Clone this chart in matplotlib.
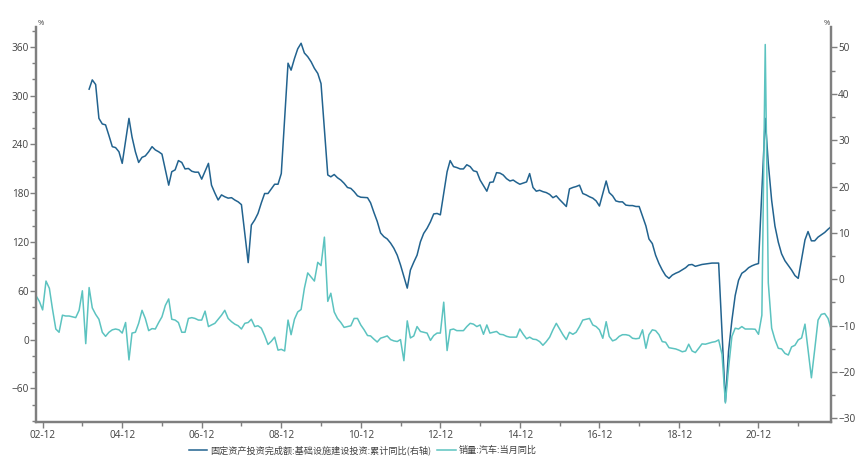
import numpy as np
import pandas as pd
import matplotlib
matplotlib.use("Agg")
import matplotlib.pyplot as plt
import matplotlib.dates as mdates
from matplotlib.ticker import MultipleLocator

plt.rcParams['font.family'] = ['Noto Sans CJK SC', 'DejaVu Sans']

# 销量:汽车:当月同比 (左轴), 2002-10 ~ 2022-10
auto_yoy = [
    54, 47, 36.5,
    72, 63, 38, 13, 9, 30, 29, 29, 28, 27, 36, 60,
    -5, 64, 39, 31, 25, 9, 4, 9, 12, 13, 12, 8,
    21, -25, 8, 9, 20, 36, 26, 11, 13.5, 13, 21, 28,
    42, 50, 25, 24, 21, 9, 9, 26, 27, 26, 24, 24,
    35, 16, 18, 20, 25, 30, 36, 26, 22, 19, 17, 13,
    20, 21, 25, 16, 17, 14, 5, -6, -2, 3, -13, -12,
    -14, 24, 6, 25, 34, 37, 63, 82, 77, 72, 95, 91,
    126, 47, 57, 34, 26, 21, 15, 16, 17, 26, 26, 18,
    12, 5, 4.5, 0.5, -3, 1.7, 3, 4.5, 0, -1.6, -2.4, 0,
    -26, 23, 2, 4.5, 16, 10, 9, 8, -1, 5, 8, 8,
    46, -13.5, 12, 13, 11, 11, 11, 16, 20, 19, 16, 18,
    6.5, 18, 8, 9, 10, 6.5, 6, 4, 3, 3, 3, 13,
    6.5, 1, 3, 0.5, 0, -2.5, -7, -2.5, 3, 12, 20, 13,
    6, 0, 9, 6.5, 9, 16, 24, 25, 26, 18, 16, 12,
    1.6, 22, 4, -1.6, 0, 4, 6, 6, 5, 1.6, 1, 1.6,
    12, -10.7, 6, 12, 11, 6, -2.5, -3.3, -10, -10.7, -11.5, -13,
    -15, -14, -5.7, -14, -16, -10.7, -5.3, -5.7, -4.5, -3.3, -2.5, -0.4,
    -18, -78, -35, 4, 14, 13, 16, 13, 13, 13, 12.7, 6.5,
    30, 363, 70, 14, 0, -10.7, -11.5, -17, -19, -9, -7, -0.4,
    2, 19, -12.7, -47, -12.7, 24, 31, 32, 26, 12,
]
auto_dates = pd.date_range('2002-10-01', periods=len(auto_yoy), freq='MS')

# 基础设施建设投资:累计同比 (右轴), 2004-01 ~ 2022-10, 1月无数据
nan = np.nan
infra_yoy = [
    nan, 41, 43, 42, 34.7, 33.5, 33.3, 31, 28.6, 28.4, 27.5, 25,
    nan, 34.7, 30.7, 27.5, 25.2, 26.3, 26.6, 27.5, 28.6, 27.9, 27.5, 27,
    nan, 20.3, 23.2, 23.6, 25.6, 25.2, 23.8, 23.9, 23.3, 23.1, 23.1, 21.6,
    nan, 25, 20.3, 18.6, 17.1, 18.2, 17.8, 17.5, 17.6, 17.1, 16.7, 16.1,
    nan, 3.6, 11.7, 12.8, 14.2, 16.5, 18.5, 18.5, 19.5, 20.5, 20.5, 22.8,
    nan, 46.6, 45.1, 47.6, 49.7, 50.9, 48.8, 48, 46.9, 45.5, 44.4, 42.2,
    nan, 22.5, 22.1, 22.6, 21.9, 21.4, 20.7, 19.8, 19.6, 18.9, 18, 17.7,
    nan, 17.6, 16.5, 14.4, 12.5, 10, 9.2, 8.7, 7.8, 6.7, 5.2, 3.1,
    nan, -1.9, 2, 3.7, 5.2, 8.1, 9.9, 11, 12.4, 14.1, 14.2, 13.9,
    nan, 23.2, 25.6, 24.3, 24.1, 23.8, 23.8, 24.7, 24.3, 23.4, 23.2, 21.4,
    nan, 19, 20.9, 21, 23, 22.9, 22.5, 21.7, 21.2, 21.4, 20.9, 20.5,
    nan, 21, 22.8, 19.8, 19, 19.2, 18.9, 18.7, 18.3, 17.6, 18, 17.2,
    nan, 15.7, 19.5, 19.8, 20, 20.3, 18.5, 18.2, 17.8, 17.5, 16.9, 15.8,
    nan, 21.2, 18.7, 18, 16.9, 16.7, 16.7, 16, 15.9, 15.9, 15.7, 15.7,
    nan, 11.5, 8.7, 7.7, 5.2, 3.4, 2, 0.8, 0.2, 0.9, 1.3, 1.6,
    nan, 2.5, 3.1, 3.2, 2.8, 3, 3.2, 3.3, 3.4, 3.5, 3.5, 3.5,
    nan, -26.4, -15.5, -8.8, -3.5, -0.2, 1.3, 1.8, 2.5, 2.9, 3.2, 3.4,
    nan, 34.7, 25, 17, 11.5, 8, 5.5, 4, 3, 2, 0.8, 0.2,
    nan, 8.5, 10.3, 8.3, 8.3, 9.1, 9.6, 10.1, 10.8, 11.4,
]
infra = pd.Series(infra_yoy, index=pd.date_range('2004-01-01', periods=len(infra_yoy), freq='MS')).dropna()

label_infra = '固定资产投资完成额:基础设施建设投资:累计同比(右轴)'
label_auto = '销量:汽车:当月同比'
c_infra = '#22638f'
c_auto = '#5cc3c0'
c_axis = '#7f7f7f'
c_text = '#404040'

fig = plt.figure(figsize=(8.63, 4.58), dpi=100)
ax = fig.add_axes([0.0417, 0.0793, 0.9216, 0.8617])
ax2 = ax.twinx()

l2, = ax2.plot(infra.index, infra.values, color=c_infra, lw=1.1, label=label_infra)
l1, = ax.plot(auto_dates, auto_yoy, color=c_auto, lw=1.1, label=label_auto)
ax.set_zorder(ax2.get_zorder() + 1)
ax.patch.set_visible(False)

ax.set_xlim(pd.Timestamp('2002-10-01'), pd.Timestamp('2022-10-01'))
ax.set_ylim(-101, 384.5)
ax2.set_ylim(-30.7, 54.4)

ax.yaxis.set_major_locator(MultipleLocator(60))
ax.yaxis.set_minor_locator(MultipleLocator(20))
ax2.yaxis.set_major_locator(MultipleLocator(10))
ax2.yaxis.set_minor_locator(MultipleLocator(5))

major = [pd.Timestamp(f'{y}-12-01') for y in range(2002, 2021, 2)]
minor = [pd.Timestamp(f'{y}-12-01') for y in range(2003, 2022, 2)]
ax.set_xticks(major)
ax.set_xticks(minor, minor=True)
ax.xaxis.set_major_formatter(mdates.DateFormatter('%y-%m'))

for a in (ax, ax2):
    a.spines['top'].set_visible(False)
    for s in ('left', 'right', 'bottom'):
        a.spines[s].set_color(c_axis)
        a.spines[s].set_linewidth(1.6)
    a.tick_params(which='both', direction='out', colors=c_axis, labelcolor=c_text, labelsize=7.2)
    a.tick_params(which='major', length=4, width=1)
    a.tick_params(which='minor', length=3, width=1)
    for lab in a.get_xticklabels() + a.get_yticklabels():
        lab.set_fontfamily(['Open Sans', 'DejaVu Sans'])
ax.tick_params(axis='y', pad=1)
ax2.tick_params(axis='y', pad=1)
ax.tick_params(axis='x', pad=2)

ax.text(0.002, 1.0, '%', transform=ax.transAxes, fontsize=5.5, color=c_text, ha='left', va='bottom',
        family=['Open Sans', 'DejaVu Sans'])
ax2.text(0.998, 1.0, '%', transform=ax2.transAxes, fontsize=5.5, color=c_text, ha='right', va='bottom',
         family=['Open Sans', 'DejaVu Sans'])

fig.legend(handles=[l2, l1], loc='center', bbox_to_anchor=(0.42, 0.017), ncol=2, frameon=False,
           fontsize=6.6, labelcolor=c_text, handlelength=2.0, handletextpad=0.3, columnspacing=0.7,
           borderpad=0)

fig.savefig('out.png', dpi=100)
